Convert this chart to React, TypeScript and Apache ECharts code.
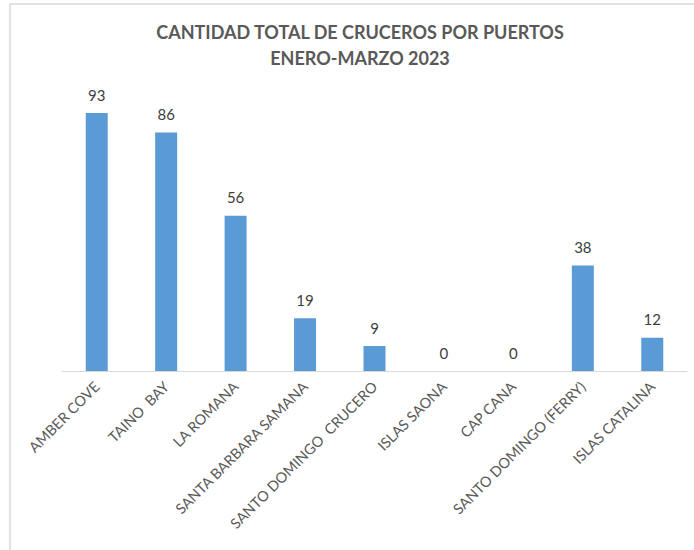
import React, { useEffect, useRef } from "react";
import * as echarts from "echarts";

const categories = [
  "AMBER COVE",
  "TAINO  BAY",
  "LA ROMANA",
  "SANTA BARBARA SAMANA",
  "SANTO DOMINGO  CRUCERO",
  "ISLAS SAONA",
  "CAP CANA",
  "SANTO DOMINGO (FERRY)",
  "ISLAS CATALINA",
];
const values = [93, 86, 56, 19, 9, 0, 0, 38, 12];
const titleLines = ["CANTIDAD TOTAL DE CRUCEROS POR PUERTOS", "ENERO-MARZO 2023"];

export default function App() {
  const ref = useRef<HTMLDivElement>(null);
  useEffect(() => {
    if (!ref.current) return;
    const chart = echarts.init(ref.current, null, { renderer: "svg" });
    chart.setOption({
      animation: false,
      backgroundColor: "#ffffff",
      textStyle: { fontFamily: "Lato" },
      graphic: [
        {
          type: "rect",
          shape: { x: 10, y: 4, width: 720, height: 600 },
          style: { fill: "none", stroke: "#d9d9d9", lineWidth: 1.5 },
          silent: true,
        },
      ],
      title: {
        text: titleLines.join("\n"),
        left: 355,
        top: 14,
        textAlign: "center",
        textStyle: {
          fontFamily: "Lato",
          fontWeight: "bold",
          fontSize: 18,
          color: "#595959",
          lineHeight: 26,
        },
      },
      grid: { left: 62, right: 7, top: 93.6, bottom: 179 },
      xAxis: {
        type: "category",
        data: categories,
        axisLine: { lineStyle: { color: "#d9d9d9", width: 1 } },
        axisTick: { show: false },
        axisLabel: {
          rotate: 45,
          interval: 0,
          fontFamily: "Lato",
          fontSize: 14.5,
          color: "#595959",
          margin: 13,
        },
      },
      yAxis: {
        type: "value",
        min: 0,
        max: 100,
        show: false,
        splitLine: { show: false },
      },
      series: [
        {
          type: "bar",
          data: values,
          barWidth: 22,
          itemStyle: { color: "#5b9bd5" },
          label: {
            show: true,
            position: "top",
            distance: 11,
            fontFamily: "Lato",
            fontSize: 15,
            color: "#404040",
          },
        },
      ],
    });
    return () => chart.dispose();
  }, []);
  return <div ref={ref} style={{ width: 694, height: 550, position: "absolute", left: 0, top: 0 }} />;
}
